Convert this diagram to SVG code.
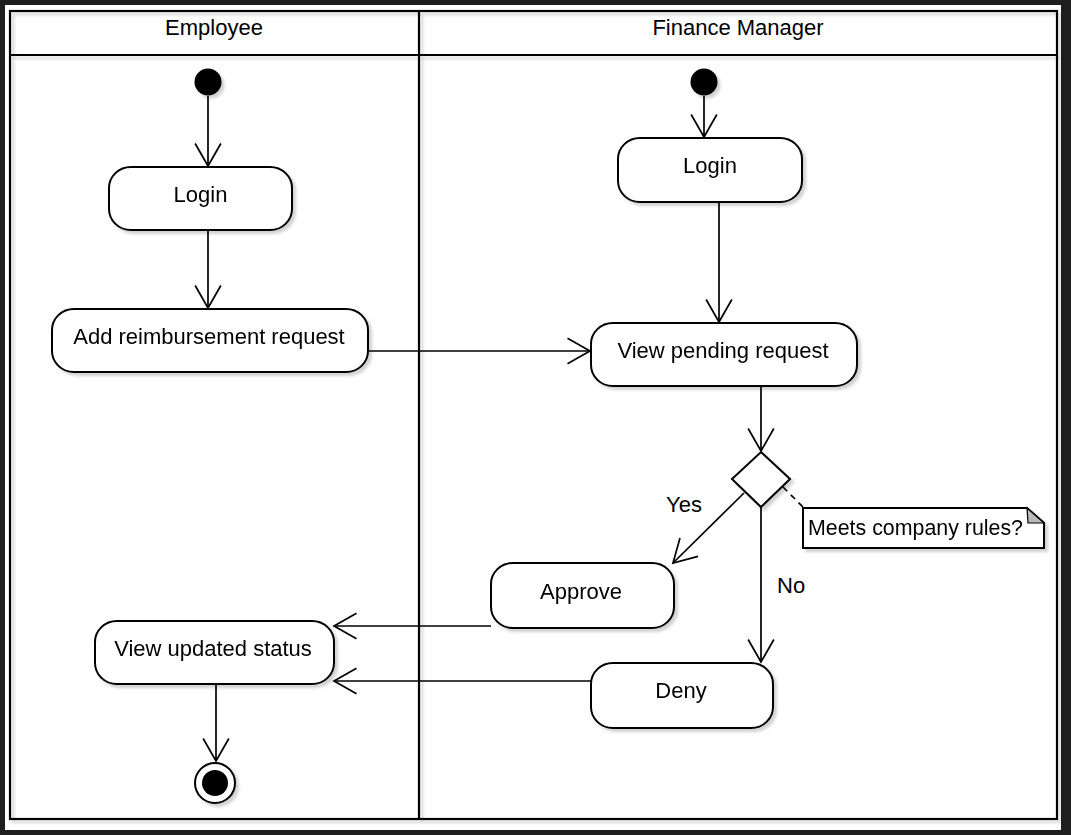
<svg xmlns="http://www.w3.org/2000/svg" width="1071" height="835" viewBox="0 0 1071 835">
<defs>
<style>
.t{font-family:"Liberation Sans",Arial,sans-serif;font-size:22px;fill:#000;}
.c{text-anchor:middle;}
.act{fill:#fff;stroke:#000;stroke-width:2;}
.ln{fill:none;stroke:#000;stroke-width:1.7;}
.frame{fill:none;stroke:#000;stroke-width:2.2;}
</style>
<filter id="sh" x="-10%" y="-10%" width="130%" height="140%">
<feDropShadow dx="3" dy="3" stdDeviation="1.5" flood-color="#000" flood-opacity="0.18"/>
</filter>
<marker id="arr" markerUnits="userSpaceOnUse" markerWidth="30" markerHeight="30" viewBox="-24 -14 28 28" refX="0" refY="0" orient="auto">
<path d="M-21,-12 L0,0 L-21,12" fill="none" stroke="#000" stroke-width="1.6"/>
</marker>
</defs>
<rect x="0" y="0" width="1071" height="835" fill="#1e1e1e"/>
<rect x="5" y="5" width="1056" height="825" fill="#fff"/>
<g id="swimlanes" filter="url(#sh)">
<rect class="frame" x="10" y="11" width="1047" height="808"/>
<line class="frame" x1="10" y1="55" x2="1057" y2="55"/>
<line class="frame" x1="419" y1="11" x2="419" y2="819"/>
</g>
<text class="t c" x="214" y="35">Employee</text>
<text class="t c" x="738" y="35">Finance Manager</text>

<g id="connectors">
<line class="ln" x1="208" y1="96" x2="208" y2="166" marker-end="url(#arr)"/>
<line class="ln" x1="208" y1="230" x2="208" y2="308" marker-end="url(#arr)"/>
<line class="ln" x1="368" y1="351" x2="590" y2="351" marker-end="url(#arr)"/>
<line class="ln" x1="704" y1="96" x2="704" y2="137" marker-end="url(#arr)"/>
<line class="ln" x1="719" y1="202" x2="719" y2="322" marker-end="url(#arr)"/>
<line class="ln" x1="761" y1="386" x2="761" y2="451" marker-end="url(#arr)"/>
<line class="ln" x1="744" y1="493" x2="673" y2="563" marker-end="url(#arr)"/>
<line class="ln" x1="761" y1="506" x2="761" y2="662" marker-end="url(#arr)"/>
<line class="ln" x1="491" y1="626" x2="334" y2="626" marker-end="url(#arr)"/>
<line class="ln" x1="591" y1="681" x2="334" y2="681" marker-end="url(#arr)"/>
<line class="ln" x1="216" y1="684" x2="216" y2="761" marker-end="url(#arr)"/>
<line class="ln" x1="783" y1="487" x2="803" y2="507" stroke-dasharray="6,5"/>
<text class="t" x="666" y="512">Yes</text>
<text class="t" x="777" y="593">No</text>
</g>

<g id="emp-start"><circle cx="208" cy="82" r="13.5" fill="#000" filter="url(#sh)"/></g>
<g id="emp-login" filter="url(#sh)">
<rect class="act" x="109" y="167" width="183" height="63" rx="22" ry="21"/>
<text class="t c" x="200.5" y="202">Login</text>
</g>
<g id="add-request" filter="url(#sh)">
<rect class="act" x="52" y="309" width="316" height="63" rx="22" ry="21"/>
<text class="t c" x="209" y="344">Add reimbursement request</text>
</g>
<g id="view-updated" filter="url(#sh)">
<rect class="act" x="95" y="621" width="239" height="63" rx="22" ry="21"/>
<text class="t c" x="213" y="656">View updated status</text>
</g>
<g id="emp-end" filter="url(#sh)">
<circle cx="215" cy="783" r="20" fill="#fff" stroke="#000" stroke-width="2"/>
<circle cx="215" cy="783" r="13" fill="#000"/>
</g>

<g id="fm-start"><circle cx="704" cy="82" r="13.5" fill="#000" filter="url(#sh)"/></g>
<g id="fm-login" filter="url(#sh)">
<rect class="act" x="618" y="138" width="184" height="64" rx="22" ry="21"/>
<text class="t c" x="710" y="173">Login</text>
</g>
<g id="view-pending" filter="url(#sh)">
<rect class="act" x="591" y="323" width="266" height="63" rx="22" ry="21"/>
<text class="t c" x="723" y="358">View pending request</text>
</g>
<g id="decision" filter="url(#sh)">
<path class="act" d="M761,452 L790,479 L761,507 L732,479 Z"/>
</g>
<g id="note" filter="url(#sh)">
<path class="act" d="M803,508 H1027 L1044,523 V548 H803 Z"/>
<path d="M1027,508 L1044,523 L1028,523 Z" fill="#bbb" stroke="#000" stroke-width="1.2"/>
<text class="t" x="808" y="535" textLength="215" lengthAdjust="spacingAndGlyphs">Meets company rules?</text>
</g>
<g id="approve" filter="url(#sh)">
<rect class="act" x="491" y="563" width="183" height="65" rx="22" ry="21"/>
<text class="t c" x="581" y="599">Approve</text>
</g>
<g id="deny" filter="url(#sh)">
<rect class="act" x="591" y="663" width="182" height="65" rx="22" ry="21"/>
<text class="t c" x="681" y="698">Deny</text>
</g>
</svg>
